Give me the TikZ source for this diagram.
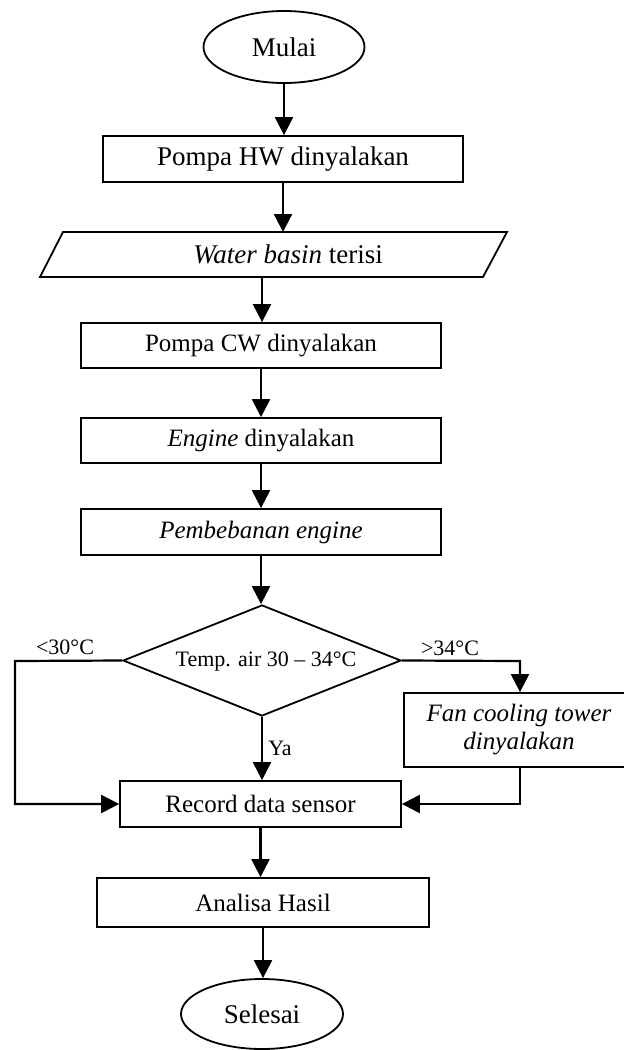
\documentclass[tikz,border=0pt]{standalone}
\usepackage{fontspec}
\setmainfont{Liberation Serif}
\usetikzlibrary{shapes.geometric,arrows.meta,calc}

\tikzset{
  x=1pt, y=-1pt,
  box/.style={draw, line width=1.8pt, rectangle, inner sep=0pt, align=center},
  term/.style={draw, line width=1.8pt, ellipse, inner sep=0pt},
  decision/.style={draw, line width=1.8pt, diamond, inner sep=0pt, aspect=2.5},
  lbl/.style={inner sep=0pt},
  arr/.style={line width=2.2pt, -{Triangle[length=18pt,width=18pt]}},
  big/.style={font=\fontsize{27}{30}\selectfont},
  mid/.style={font=\fontsize{25}{30}\selectfont},
  small/.style={font=\fontsize{22}{26}\selectfont},
}

\begin{document}
\begin{tikzpicture}
\useasboundingbox (0,0) rectangle (624,1050);
\clip (0,0) rectangle (624,1050);

% start
\node[term, big, minimum width=161pt, minimum height=72pt] (mulai) at (284,47) {Mulai};

% process steps
\node[box, big, minimum width=360pt, minimum height=46pt] (hw) at (283,159) {Pompa HW dinyalakan};

% input/output parallelogram
\coordinate (p1) at (63,232);
\coordinate (p2) at (507,232);
\coordinate (p3) at (483,277);
\coordinate (p4) at (40,277);
\draw[line width=1.8pt, line join=miter] (p1) -- (p2) -- (p3) -- (p4) -- cycle;
\node[lbl, big] (basin) at (288,254) {\textit{Water basin} terisi};
\coordinate (paratop) at (283,232);
\coordinate (parabot) at (262,277);

\node[box, mid, minimum width=360pt, minimum height=45pt] (cw) at (261,345.5) {Pompa CW dinyalakan};
\node[box, mid, minimum width=360pt, minimum height=45pt] (eng) at (261,440.5) {\textit{Engine} dinyalakan};
\node[box, mid, minimum width=360pt, minimum height=46pt] (pemb) at (261,532) {\textit{Pembebanan engine}};

% temperature check
\node[decision, minimum width=278pt, minimum height=111pt] (dia) at (262,660.5) {};
\node[lbl, small] (temp) at (266,662) {Temp. air 30 -- 34°C};

\node[box, mid, minimum width=230pt, minimum height=74pt] (fan) at (519,730) {\textit{Fan cooling tower}\\[-2pt]\textit{dinyalakan}};

\node[box, mid, minimum width=281pt, minimum height=46pt] (rec) at (260.5,804) {Record data sensor};
\node[box, mid, minimum width=332pt, minimum height=49pt] (ana) at (263,902.5) {Analisa Hasil};

% end
\node[term, big, minimum width=162pt, minimum height=70pt] (sel) at (262,1014) {Selesai};

% branch labels
\node[lbl, small] (lt) at (65,647) {<30°C};
\node[lbl, small] (gt) at (450,648) {>34°C};
\node[lbl, small] (ya) at (280,748) {Ya};

% connectors
\draw[arr] (mulai.south) -- (mulai.south |- hw.north);
\draw[arr] (hw.south) -- (paratop);
\draw[arr] (parabot) -- (parabot |- cw.north);
\draw[arr] (cw.south) -- (eng.north);
\draw[arr] (eng.south) -- (pemb.north);
\draw[arr] (pemb.south) -- (pemb.south |- dia.north);
\draw[arr] (dia.south) -- (dia.south |- rec.north);

\coordinate (lbend) at (15,661);
\draw[arr, line join=miter] (dia.west) -- (lbend) |- (rec.west);

\coordinate (rbend) at (520,661);
\draw[arr, line join=miter] (dia.east) -- (rbend) -- (rbend |- fan.north);
\draw[arr, line join=miter] (rbend |- fan.south) |- (rec.east);

\draw[arr] (rec.south) -- (rec.south |- ana.north);
\draw[arr] (ana.south) -- (ana.south |- sel.north);
\end{tikzpicture}
\end{document}
